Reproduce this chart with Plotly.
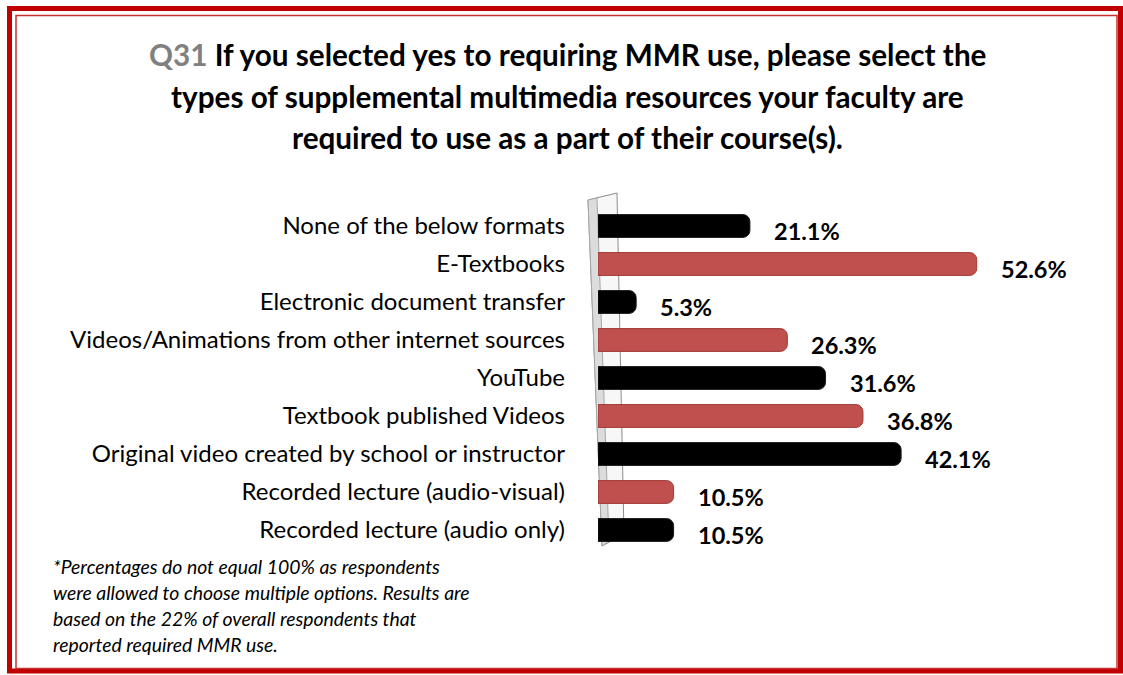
import plotly.graph_objects as go

# Survey responses (percent of respondents)
categories = [
    "None of the below formats",
    "E-Textbooks",
    "Electronic document transfer",
    "Videos/Animations from other internet sources",
    "YouTube",
    "Textbook published Videos",
    "Original video created by school or instructor",
    "Recorded lecture (audio-visual)",
    "Recorded lecture (audio only)",
]
percents = [21.1, 52.6, 5.3, 26.3, 31.6, 36.8, 42.1, 10.5, 10.5]

title_lines = [
    "<span style='color:#808080'>Q31</span> If you selected yes to requiring MMR use, please select the",
    "types of supplemental multimedia resources your faculty are",
    "required to use as a part of their course(s).",
]
note_lines = [
    "*Percentages do not equal 100% as respondents",
    "were allowed to choose multiple options. Results are",
    "based on the 22% of overall respondents that",
    "reported required MMR use.",
]

W, H = 1123, 675
L, R, T, B = 598, 21, 205, 126
FONT = "Lato"
RED, BLACK = "#C0504D", "#000000"
bar_colors = [BLACK if i % 2 == 0 else RED for i in range(len(categories))]
edge_colors = ["#1a1a1a" if i % 2 == 0 else "#9E3A37" for i in range(len(categories))]


def px_x(px):
    return (px - L) / (W - L - R)


def px_y(py):
    return (H - B - py) / (H - T - B)


fig = go.Figure()
fig.add_trace(go.Bar(
    y=categories,
    x=percents,
    orientation="h",
    width=0.6,
    marker=dict(color=bar_colors, line=dict(color=edge_colors, width=1), cornerradius=7),
    hoverinfo="skip",
))

annotations = []
for cat, v in zip(categories, percents):
    annotations.append(dict(
        x=v, y=cat, xref="x", yref="y", text=f"<b>{v:.1f}%</b>",
        showarrow=False, xanchor="left", yanchor="middle", xshift=22, yshift=-5,
        font=dict(family=FONT, size=23.5, color="#000000"),
    ))

title_y = [54, 96, 137]
for line, py in zip(title_lines, title_y):
    annotations.append(dict(
        x=px_x(567), y=px_y(py), xref="paper", yref="paper", text=f"<b>{line}</b>",
        showarrow=False, xanchor="center", yanchor="middle",
        font=dict(family=FONT, size=29.7, color="#000000"),
    ))

note_y = [566, 592, 618, 644]
for line, py in zip(note_lines, note_y):
    annotations.append(dict(
        x=px_x(51), y=px_y(py), xref="paper", yref="paper", text=f"<i>{line}</i>",
        showarrow=False, xanchor="left", yanchor="middle",
        font=dict(family=FONT, size=19.4, color="#000000"),
    ))

shapes = [
    # outer frame
    dict(type="rect", xref="paper", yref="paper",
         x0=px_x(9.5), x1=px_x(1120.5), y0=px_y(8.5), y1=px_y(671),
         line=dict(color="#C00000", width=5), fillcolor="rgba(0,0,0,0)", layer="below"),
    dict(type="rect", xref="paper", yref="paper",
         x0=px_x(16), x1=px_x(1117), y0=px_y(15.5), y1=px_y(668.5),
         line=dict(color="#C83030", width=1.5), fillcolor="rgba(0,0,0,0)", layer="below"),
    # 3D wall behind the bars
    dict(type="path", xref="paper", yref="paper",
         path=(f"M {px_x(588)},{px_y(200)} L {px_x(617)},{px_y(193)} "
               f"L {px_x(624)},{px_y(534)} L {px_x(602)},{px_y(546)} Z"),
         line=dict(color="#8C8C8C", width=1), fillcolor="#F7F7F7", layer="below"),
    dict(type="path", xref="paper", yref="paper",
         path=(f"M {px_x(588)},{px_y(200)} L {px_x(597)},{px_y(198)} "
               f"L {px_x(609)},{px_y(541)} L {px_x(602)},{px_y(546)} Z"),
         line=dict(color="#A6A6A6", width=1), fillcolor="#DCDCDC", layer="below"),
]

fig.update_layout(
    width=W, height=H,
    margin=dict(l=L, r=R, t=T, b=B),
    paper_bgcolor="white", plot_bgcolor="rgba(0,0,0,0)",
    showlegend=False,
    bargap=0.4,
    annotations=annotations,
    shapes=shapes,
    xaxis=dict(range=[0, 70], showgrid=False, zeroline=False, showticklabels=False,
               showline=False, fixedrange=True),
    yaxis=dict(autorange="reversed", showgrid=False, zeroline=False, showline=False,
               ticks="", ticklabelstandoff=32,
               tickfont=dict(family=FONT, size=24, color="#000000"), fixedrange=True),
)

fig.write_html("out.html", config={"displayModeBar": False})
